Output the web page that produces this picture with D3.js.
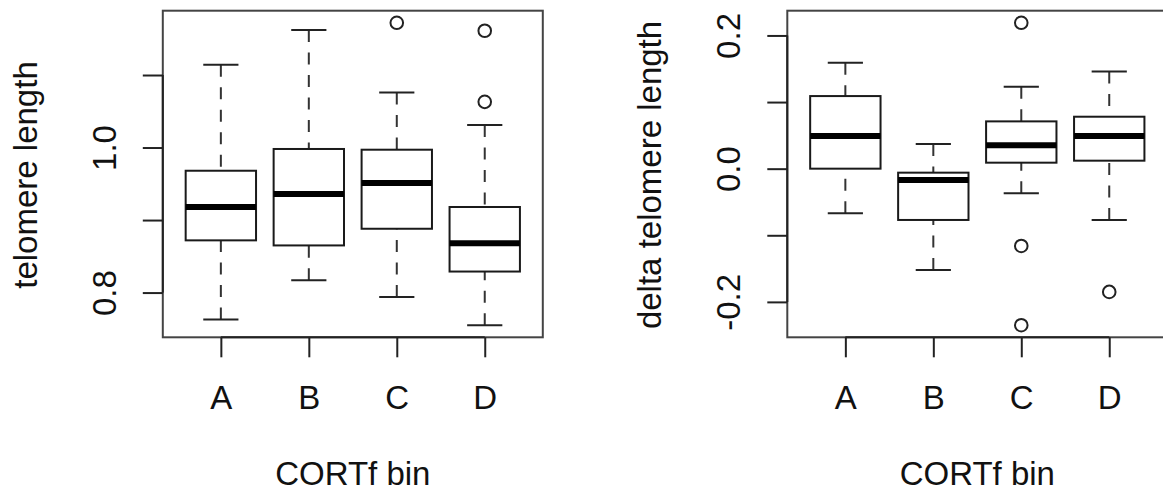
<!DOCTYPE html>
<html>
<head>
<meta charset="utf-8">
<script src="https://cdn.jsdelivr.net/npm/d3@7"></script>
<style>
  body { margin: 0; background: #fff; }
  svg { display: block; }
  text { font-family: "Liberation Sans", Arial, sans-serif; fill: #111; }
</style>
</head>
<body>
<svg id="chart" width="1163" height="493"></svg>
<script>
// data
var categories = ["A", "B", "C", "D"];

var telLow    = [0.763, 0.817, 0.794, 0.755];
var telQ1     = [0.872, 0.865, 0.888, 0.829];
var telMedian = [0.918, 0.936, 0.951, 0.868];
var telQ3     = [0.968, 0.998, 0.997, 0.918];
var telHigh   = [1.114, 1.162, 1.076, 1.031];
var telOut    = [[], [], [1.172], [1.161, 1.063]];

var dTelLow    = [-0.067, -0.152, -0.037, -0.077];
var dTelQ1     = [0.000, -0.077, 0.009, 0.012];
var dTelMedian = [0.049, -0.017, 0.035, 0.049];
var dTelQ3     = [0.109, -0.006, 0.071, 0.078];
var dTelHigh   = [0.159, 0.037, 0.123, 0.146];
var dTelOut    = [[], [], [0.219, -0.116, -0.235], [-0.185]];

var telTicks = [0.8, 0.9, 1.0, 1.1];
var telTickLabels = ["0.8", "", "1.0", ""];
var dTelTicks = [-0.2, -0.1, 0.0, 0.1, 0.2];
var dTelTickLabels = ["-0.2", "", "0.0", "", "0.2"];

var yTitles = ["telomere length", "delta telomere length"];
var xTitle = "CORTf bin";

var svg = d3.select("#chart");
var fontSize = 33;

function drawPanel(left, low, q1, med, q3, high, out, ticks, tickLabels, yTitle) {
    var width = 380, top = 10.7, bottom = 337.3;
    var right = left + width;

    // R style: data range padded by 4%
    var all = low.concat(high, d3.merge(out));
    var ext = d3.extent(all);
    var pad = (ext[1] - ext[0]) * 0.04;

    var x = d3.scaleLinear().domain([0.34, 4.66]).range([left, right]);
    var y = d3.scaleLinear().domain([ext[0] - pad, ext[1] + pad]).range([bottom, top]);
    var step = x(2) - x(1);

    var g = svg.append("g");

    // frame
    g.append("rect")
        .attr("x", left).attr("y", top)
        .attr("width", width).attr("height", bottom - top)
        .attr("fill", "none").attr("stroke", "#444").attr("stroke-width", 2);

    var boxes = categories.map(function (c, i) {
        return {k: i + 1, low: low[i], q1: q1[i], med: med[i], q3: q3[i], high: high[i], out: out[i]};
    });

    var b = g.selectAll("g.box").data(boxes).enter()
        .append("g").attr("class", "box");

    // whiskers, dashed from the end toward the box
    b.append("line")
        .attr("x1", d => x(d.k)).attr("x2", d => x(d.k))
        .attr("y1", d => y(d.high)).attr("y2", d => y(d.q3))
        .attr("stroke", "#333").attr("stroke-width", 2).attr("stroke-dasharray", "12,10.5");
    b.append("line")
        .attr("x1", d => x(d.k)).attr("x2", d => x(d.k))
        .attr("y1", d => y(d.low)).attr("y2", d => y(d.q1))
        .attr("stroke", "#333").attr("stroke-width", 2).attr("stroke-dasharray", "12,10.5");

    // staples
    ["low", "high"].forEach(function (key) {
        b.append("line")
            .attr("x1", d => x(d.k) - step * 0.2).attr("x2", d => x(d.k) + step * 0.2)
            .attr("y1", d => y(d[key])).attr("y2", d => y(d[key]))
            .attr("stroke", "#222").attr("stroke-width", 2);
    });

    b.append("rect")
        .attr("x", d => x(d.k) - step * 0.4)
        .attr("y", d => y(d.q3))
        .attr("width", step * 0.8)
        .attr("height", d => y(d.q1) - y(d.q3))
        .attr("fill", "#fff").attr("stroke", "#1a1a1a").attr("stroke-width", 2);

    b.append("line")
        .attr("x1", d => x(d.k) - step * 0.4).attr("x2", d => x(d.k) + step * 0.4)
        .attr("y1", d => y(d.med)).attr("y2", d => y(d.med))
        .attr("stroke", "#000").attr("stroke-width", 6);

    b.selectAll("circle")
        .data(d => d.out.map(v => ({k: d.k, v: v})))
        .enter().append("circle")
        .attr("cx", d => x(d.k)).attr("cy", d => y(d.v))
        .attr("r", 6.3)
        .attr("fill", "none").attr("stroke", "#222").attr("stroke-width", 2);

    //x axis
    var xAxis = g.append("g")
        .attr("transform", "translate(0," + bottom + ")")
        .call(d3.axisBottom(x)
            .tickValues([1, 2, 3, 4])
            .tickFormat(d => categories[d - 1])
            .tickSize(20)
            .tickPadding(28));
    xAxis.select(".domain").remove();
    xAxis.append("line")
        .attr("x1", x(1)).attr("x2", x(4))
        .attr("stroke", "#222").attr("stroke-width", 2);
    xAxis.selectAll(".tick line").attr("stroke", "#222").attr("stroke-width", 2);
    xAxis.selectAll("text")
        .attr("font-size", fontSize)
        .attr("font-family", "Liberation Sans, Arial, sans-serif")
        .attr("fill", "#111");

    //y axis
    var yAxis = g.append("g")
        .attr("transform", "translate(" + left + ",0)")
        .call(d3.axisLeft(y)
            .tickValues(ticks)
            .tickFormat((d, i) => tickLabels[i])
            .tickSize(20));
    yAxis.select(".domain").remove();
    yAxis.append("line")
        .attr("y1", y(ticks[0])).attr("y2", y(ticks[ticks.length - 1]))
        .attr("stroke", "#222").attr("stroke-width", 2);
    yAxis.selectAll(".tick line").attr("stroke", "#222").attr("stroke-width", 2);
    yAxis.selectAll("text")
        .attr("x", 0).attr("y", 0).attr("dy", 0)
        .attr("transform", "translate(-47,0) rotate(-90)")
        .attr("text-anchor", "middle")
        .attr("font-size", fontSize)
        .attr("font-family", "Liberation Sans, Arial, sans-serif")
        .attr("fill", "#111");

    // titles
    g.append("text")
        .attr("transform", "translate(" + (left - 126) + "," + ((top + bottom) / 2 + 1) + ") rotate(-90)")
        .attr("text-anchor", "middle")
        .attr("font-size", fontSize)
        .text(yTitle);

    g.append("text")
        .attr("x", (left + right) / 2)
        .attr("y", 485)
        .attr("text-anchor", "middle")
        .attr("font-size", fontSize)
        .text(xTitle);
}

drawPanel(162.8, telLow, telQ1, telMedian, telQ3, telHigh, telOut, telTicks, telTickLabels, yTitles[0]);
drawPanel(787.3, dTelLow, dTelQ1, dTelMedian, dTelQ3, dTelHigh, dTelOut, dTelTicks, dTelTickLabels, yTitles[1]);
</script>
</body>
</html>
